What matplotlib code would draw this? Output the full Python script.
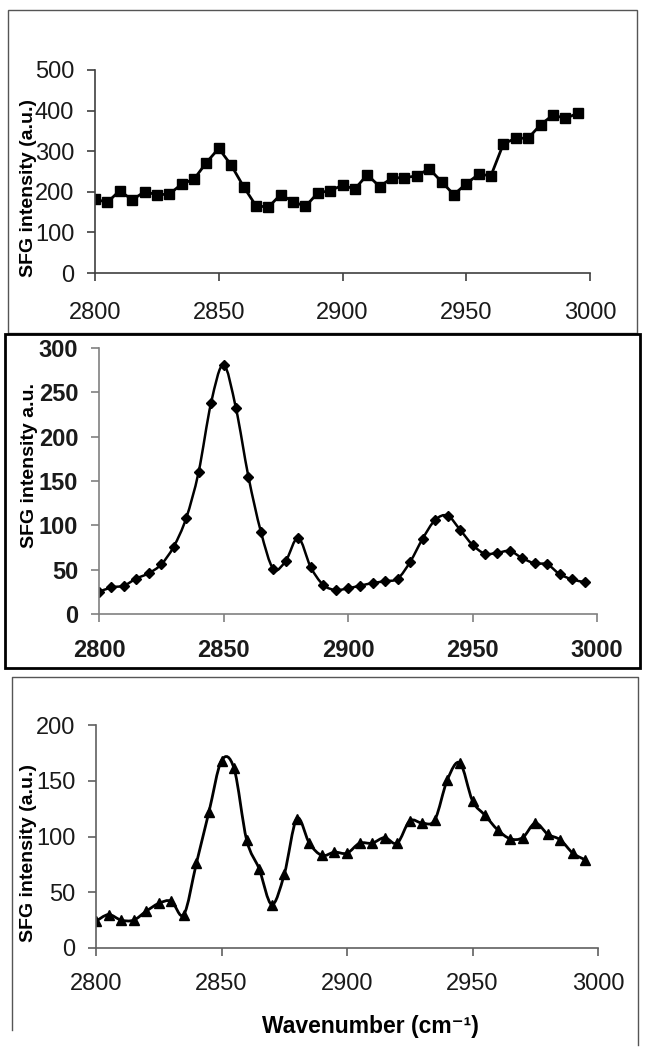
import matplotlib
matplotlib.use("Agg")
import matplotlib.pyplot as plt
from matplotlib.path import Path
from matplotlib.patches import PathPatch, Rectangle
from matplotlib.lines import Line2D

plt.rcParams['font.family'] = ['Liberation Sans', 'DejaVu Sans']

# wavenumbers (cm-1), shared by all three spectra
wavenumber = [2800, 2805, 2810, 2815, 2820, 2825, 2830, 2835, 2840, 2845,
              2850, 2855, 2860, 2865, 2870, 2875, 2880, 2885, 2890, 2895,
              2900, 2905, 2910, 2915, 2920, 2925, 2930, 2935, 2940, 2945,
              2950, 2955, 2960, 2965, 2970, 2975, 2980, 2985, 2990, 2995]

# top panel (squares)
sfg_top = [182, 174, 203, 180, 200, 193, 194, 219, 231, 272,
           307, 266, 213, 166, 162, 193, 176, 164, 197, 203,
           216, 207, 242, 213, 234, 235, 239, 257, 225, 193,
           220, 243, 240, 318, 332, 332, 365, 389, 381, 393]

# middle panel (diamonds)
sfg_mid = [25, 30, 32, 40, 46, 56, 76, 108, 160, 238,
           281, 232, 155, 93, 51, 60, 86, 53, 33, 27,
           29, 32, 35, 37, 40, 59, 85, 106, 111, 95,
           78, 68, 69, 71, 63, 57, 56, 45, 39, 36]

# bottom panel (triangles)
sfg_bot = [24, 30, 25, 25, 33, 40, 42, 30, 76, 122,
           168, 161, 97, 71, 39, 66, 116, 94, 83, 86,
           85, 94, 94, 99, 94, 114, 112, 115, 151, 166,
           132, 119, 106, 98, 99, 112, 102, 97, 85, 79]

W, H = 648, 1050


def smooth_line(ax, x, y, lw):
    # Excel-style smoothed line: cubic Bezier segments through every point
    pts = list(zip(x, y))
    n = len(pts)
    verts = [pts[0]]
    codes = [Path.MOVETO]
    for i in range(n - 1):
        p0 = pts[max(i - 1, 0)]
        p1 = pts[i]
        p2 = pts[i + 1]
        p3 = pts[min(i + 2, n - 1)]
        c1 = (p1[0] + (p2[0] - p0[0]) / 6, p1[1] + (p2[1] - p0[1]) / 6)
        c2 = (p2[0] - (p3[0] - p1[0]) / 6, p2[1] - (p3[1] - p1[1]) / 6)
        verts += [c1, c2, p2]
        codes += [Path.CURVE4] * 3
    ax.add_patch(PathPatch(Path(verts, codes), fill=False, lw=lw,
                           ec='black', zorder=2))


def px_axes(left, right, top, bottom):
    return fig.add_axes([left / W, 1 - bottom / H, (right - left) / W, (bottom - top) / H])


def style_axes(ax, ymax, ystep, spine_col, weight, xpad, ypad):
    ax.set_xlim(2800, 3000)
    ax.set_ylim(0, ymax)
    ax.set_xticks([2800, 2850, 2900, 2950, 3000])
    ax.set_yticks(range(0, ymax + 1, ystep))
    for s in ['top', 'right']:
        ax.spines[s].set_visible(False)
    for s in ['left', 'bottom']:
        ax.spines[s].set_color(spine_col)
        ax.spines[s].set_linewidth(1.2)
    ax.tick_params(axis='both', direction='out', length=6, width=1.2,
                   color=spine_col, labelsize=17, labelcolor='#1a1a1a')
    ax.tick_params(axis='x', pad=xpad)
    ax.tick_params(axis='y', pad=ypad)
    for lab in ax.get_xticklabels() + ax.get_yticklabels():
        lab.set_fontweight(weight)
    ax.patch.set_alpha(0)


fig = plt.figure(figsize=(W / 100, H / 100), dpi=100)

# panel frames
fig.add_artist(Rectangle((8 / W, 1 - 333 / H), 629 / W, 323 / H, fill=False,
                         ec='#555555', lw=1.0, transform=fig.transFigure))
fig.add_artist(Rectangle((5 / W, 1 - 668 / H), 635 / W, 334 / H, fill=False,
                         ec='black', lw=2.0, transform=fig.transFigure, zorder=5))
fig.add_artist(Line2D([12 / W, 12 / W, 638 / W, 638 / W],
                      [1 - 1030 / H, 1 - 677 / H, 1 - 677 / H, 1 - 1045 / H],
                      color='#555555', lw=1.0, transform=fig.transFigure))

# top panel
ax1 = px_axes(95, 590, 70, 273)
ax1.plot(wavenumber, sfg_top, color='black', lw=2.0, marker='s', ms=6.5,
         mfc='black', mec='black')
style_axes(ax1, 500, 100, '#404040', 'normal', 15, 9)
fig.text(29 / W, 1 - 188 / H, 'SFG intensity (a.u.)', rotation=90, ha='center',
         va='center', fontsize=14, fontweight='bold')

# middle panel
ax2 = px_axes(99, 597, 348, 614)
smooth_line(ax2, wavenumber, sfg_mid, 1.8)
ax2.plot(wavenumber, sfg_mid, ls='none', marker='D', ms=5.5, mfc='black', mec='black')
style_axes(ax2, 300, 50, '#808080', 'bold', 12, 9)
fig.text(30 / W, 1 - 465 / H, 'SFG intensity a.u.', rotation=90, ha='center',
         va='center', fontsize=14, fontweight='bold')

# bottom panel
ax3 = px_axes(96, 598, 725, 948)
smooth_line(ax3, wavenumber, sfg_bot, 2.0)
ax3.plot(wavenumber, sfg_bot, ls='none', marker='^', ms=7.5, mfc='black', mec='black')
style_axes(ax3, 200, 50, '#606060', 'normal', 12, 9)
fig.text(29 / W, 1 - 853 / H, 'SFG intensity (a.u.)', rotation=90, ha='center',
         va='center', fontsize=14, fontweight='bold')
fig.text(370 / W, 1 - 1027 / H, 'Wavenumber (cm\u207b\u00b9)', ha='center',
         va='center', fontsize=16.5, fontweight='bold')

fig.savefig('out.png', dpi=100)
